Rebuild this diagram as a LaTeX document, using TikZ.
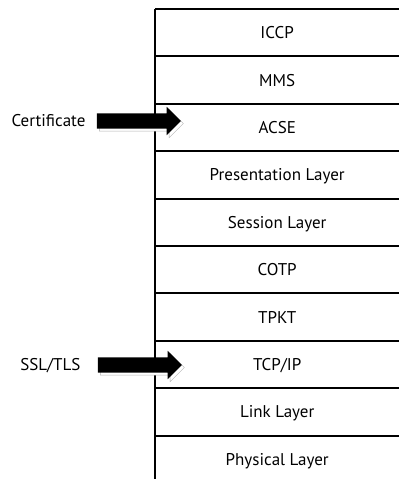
\documentclass[tikz,border=0pt]{standalone}
\usepackage{fontspec}
\setmainfont{PT Sans}
\usetikzlibrary{shapes.arrows,shadows,positioning}

\begin{document}
\begin{tikzpicture}[
    x=1pt, y=1pt,
    layer/.style={rectangle, minimum width=244pt, minimum height=47pt, inner sep=0pt,
        text height=12pt, text depth=0pt, font=\fontsize{17}{19}\selectfont},
    lbl/.style={font=\fontsize{17}{19}\selectfont, inner sep=0pt, text height=12pt, text depth=0pt},
    fatarrow/.style={single arrow, fill=black, minimum height=84pt, minimum width=28pt, inner sep=7.5pt,
        single arrow head extend=6.5pt, single arrow head indent=0pt,
        drop shadow={fill=white, draw=black!30, shadow xshift=2.5pt, shadow yshift=-2.5pt, opacity=1}},
    rule/.style={line width=2pt}
]
\useasboundingbox (0,0) rectangle (399,479);

\node[layer, anchor=north west] (iccp) at (155,470) {ICCP};
\node[layer, below=0pt of iccp] (mms) {MMS};
\node[layer, below=0pt of mms] (acse) {ACSE};
\node[layer, below=0pt of acse] (pres) {Presentation Layer};
\node[layer, below=0pt of pres] (sess) {Session Layer};
\node[layer, below=0pt of sess] (cotp) {COTP};
\node[layer, below=0pt of cotp] (tpkt) {TPKT};
\node[layer, below=0pt of tpkt] (tcpip) {TCP/IP};
\node[layer, below=0pt of tcpip] (link) {Link Layer};
\node[layer, below=0pt of link] (phys) {Physical Layer};
\coordinate (base) at (155,0);

\foreach \n in {iccp,mms,acse,pres,sess,cotp,tpkt,tcpip,link,phys}
    \draw[rule] (\n.north west) -- (\n.north east);
\draw[rule] (iccp.north west) -- (base);

\node[fatarrow] (certarrow) at (135,358) {};
\node[fatarrow] (sslarrow) at (136,114) {};
\node[lbl, left=11pt of certarrow.tail] (cert) {Certificate};
\node[lbl, left=17pt of sslarrow.tail] (ssl) {SSL/TLS};
\end{tikzpicture}
\end{document}
